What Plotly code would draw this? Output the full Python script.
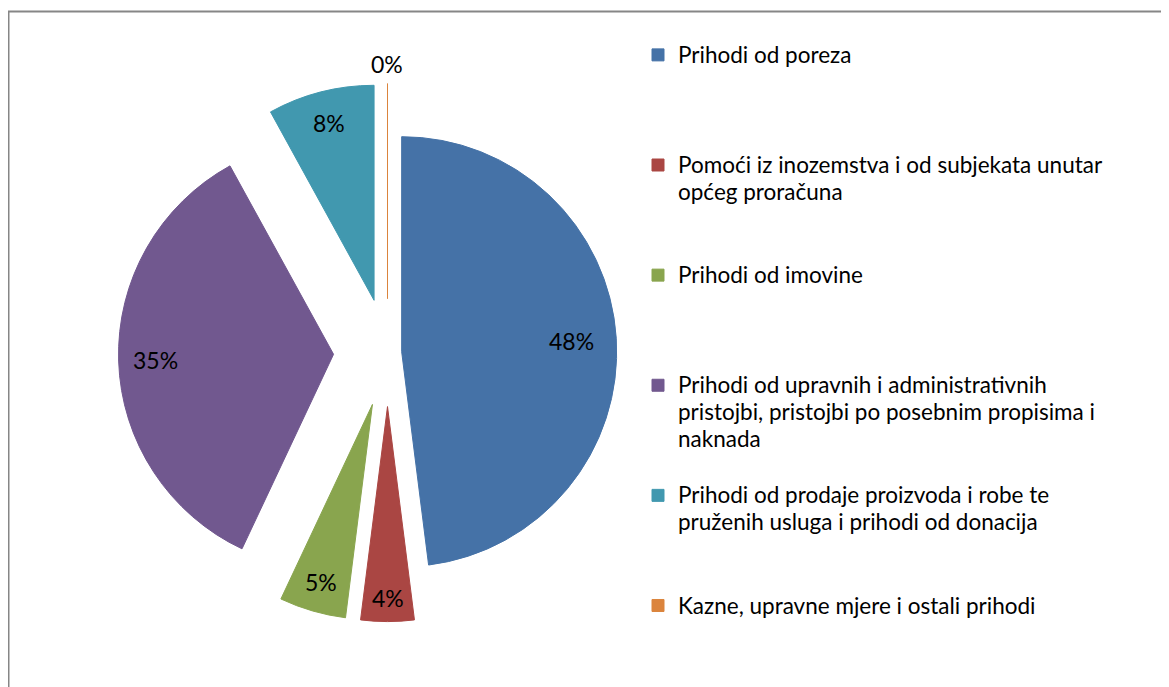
import math
import plotly.graph_objects as go

# ---------------- data ----------------
categories = [
    "Prihodi od poreza",
    "Pomoći iz inozemstva i od subjekata unutar<br>općeg proračuna",
    "Prihodi od imovine",
    "Prihodi od upravnih i administrativnih<br>pristojbi, pristojbi po posebnim propisima i<br>naknada",
    "Prihodi od prodaje proizvoda i robe te<br>pruženih usluga i prihodi od donacija",
    "Kazne, upravne mjere i ostali prihodi",
]
shares = [48, 4, 5, 35, 8, 0]

# ---------------- style ----------------
colors = ["#4572A7", "#AA4643", "#89A54E", "#71588F", "#4198AF", "#DB843D"]
pulls = [0.066, 0.251, 0.251, 0.251, 0.251, 0.251]
label_radius = [0.79, 0.89, 0.86, 0.83, 0.85, 1.09]

W, H = 1169, 687
# pie box in figure pixels (left, right, top, bottom)
BOX = (110.5, 648.5, 75.6, 613.6)
dom_x = [BOX[0] / W, BOX[1] / W]
dom_y = [1 - BOX[3] / H, 1 - BOX[2] / H]
FONT = "Lato"
LEG_SIZE = 20.6       # sets legend line spacing
LEG_TEXT_SIZE = 22.5  # visible legend text size
LEG_LINES = 4


def legend_label(c, last):
    lines = c.split("<br>")
    body = "<br>".join(f'<span style="font-size:{LEG_TEXT_SIZE}px">{ln}</span>' for ln in lines)
    if not last:
        body += "<br> " * (LEG_LINES - len(lines))
    return body


legend_text = [legend_label(c, i == len(categories) - 1) for i, c in enumerate(categories)]

fig = go.Figure(go.Pie(
    labels=legend_text,
    values=shares,
    sort=False,
    direction="clockwise",
    rotation=0,
    pull=pulls,
    marker=dict(colors=colors, line=dict(color=colors, width=1)),
    textinfo="none",
    hoverinfo="skip",
    domain=dict(x=dom_x, y=dom_y),
))

# percentage labels, positioned from the data (slice mid-angles)
cx = W * (dom_x[0] + dom_x[1]) / 2
cy = H * (1 - (dom_y[0] + dom_y[1]) / 2)
r = min(W * (dom_x[1] - dom_x[0]), H * (dom_y[1] - dom_y[0])) / (2 * (1 + max(pulls)))
total = sum(shares)
cum = 0
annotations = []
for v, p, k in zip(shares, pulls, label_radius):
    th = 2 * math.pi * (cum + v / 2) / total
    cum += v
    px = cx + (p + k) * r * math.sin(th)
    py = cy - (p + k) * r * math.cos(th)
    annotations.append(dict(
        x=px / W, y=1 - py / H, xref="paper", yref="paper",
        text=f"{round(100 * v / total)}%", showarrow=False,
        font=dict(family=FONT, size=23, color="#000000"),
        xanchor="center", yanchor="middle",
    ))

fig.update_layout(
    width=W, height=H,
    margin=dict(l=0, r=0, t=0, b=0),
    paper_bgcolor="white",
    plot_bgcolor="white",
    font=dict(family=FONT, color="#000000"),
    showlegend=True,
    legend=dict(
        x=630 / W, y=1 - 27 / H, xanchor="left", yanchor="top",
        font=dict(family=FONT, size=LEG_SIZE, color="#000000"),
        valign="top", bgcolor="rgba(0,0,0,0)", borderwidth=0,
    ),
    annotations=annotations,
    shapes=[dict(type="rect", xref="paper", yref="paper",
                 x0=0.5 / W, x1=1.05, y0=-0.05, y1=1 - 3.5 / H,
                 line=dict(color="#868686", width=2), layer="above")],
)

fig.write_html("out.html")
